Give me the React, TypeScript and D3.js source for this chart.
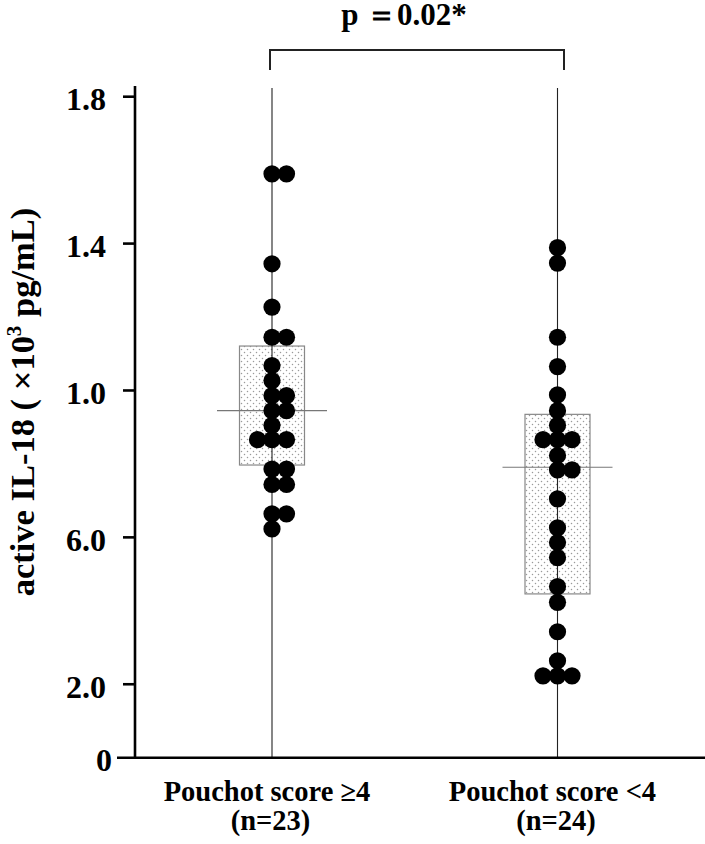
import React, { useEffect, useRef } from 'react';
import * as d3 from 'd3';

// categories and labels
const groups = ['Pouchot score ≥4', 'Pouchot score <4'];
const groupCounts = ['(n=23)', '(n=24)'];

// individual values (axis units)
const scoreHighValues = [
  1.59, 1.59, 1.345, 1.227, 1.145, 1.145, 1.068, 1.027, 0.986, 0.986, 0.945, 0.945,
  0.905, 0.866, 0.866, 0.866, 0.786, 0.786, 0.744, 0.744, 0.664, 0.664, 0.623,
];
const scoreLowValues = [
  1.389, 1.347, 1.145, 1.065, 0.988, 0.945, 0.905, 0.866, 0.866, 0.866, 0.823, 0.784,
  0.784, 0.705, 0.626, 0.586, 0.545, 0.466, 0.423, 0.343, 0.264, 0.223, 0.223, 0.223,
];

// box summaries per group
const boxQ1 = [0.797, 0.446];
const boxMedian = [0.945, 0.791];
const boxQ3 = [1.121, 0.935];

// y axis ticks (labels as printed)
const tickValues = [0, 0.2, 0.6, 1.0, 1.4, 1.8];
const tickLabels = ['0', '2.0', '6.0', '1.0', '1.4', '1.8'];

const pValueLabel = 'p ＝0.02*';

const FONT = "'Times New Roman', 'Liberation Serif', serif";

export default function App() {
  const svgRef = useRef<SVGSVGElement>(null);

  useEffect(() => {
    if (!svgRef.current) return;
    const svg = d3.select(svgRef.current);
    svg.selectAll('*').remove();

    const width = 705;
    const axisX = 135;

    const y = d3.scaleLinear().domain([0, 1.8]).range([757.7, 96.7]);
    const x = d3.scalePoint<string>().domain(groups).range([272, 557.5]);

    // dotted fill pattern for boxes
    const defs = svg.append('defs');
    const pat = defs.append('pattern')
      .attr('id', 'dots')
      .attr('width', 6)
      .attr('height', 6)
      .attr('patternUnits', 'userSpaceOnUse');
    pat.append('rect').attr('width', 6).attr('height', 6).attr('fill', '#fff');
    pat.append('circle').attr('cx', 1.5).attr('cy', 1.5).attr('r', 0.75).attr('fill', '#9a9a9a');
    pat.append('circle').attr('cx', 4.5).attr('cy', 4.5).attr('r', 0.75).attr('fill', '#9a9a9a');

    const g = svg.append('g');

    // boxes
    groups.forEach((name, i) => {
      const cx = x(name)!;
      g.append('rect')
        .attr('x', cx - 32.5)
        .attr('y', y(boxQ3[i]))
        .attr('width', 65)
        .attr('height', y(boxQ1[i]) - y(boxQ3[i]))
        .attr('fill', 'url(#dots)')
        .attr('stroke', '#888')
        .attr('stroke-width', 1.2);
    });

    // group vertical lines
    groups.forEach((name) => {
      g.append('line')
        .attr('x1', x(name)!).attr('x2', x(name)!)
        .attr('y1', 88).attr('y2', y(0))
        .attr('stroke', '#222')
        .attr('stroke-width', 1.1);
    });

    // medians
    groups.forEach((name, i) => {
      const cx = x(name)!;
      g.append('line')
        .attr('x1', cx - 55).attr('x2', cx + 55)
        .attr('y1', y(boxMedian[i])).attr('y2', y(boxMedian[i]))
        .attr('stroke', '#777')
        .attr('stroke-width', 1.2);
    });

    // dots, tied values spread sideways
    const spread = 14.5;
    [scoreHighValues, scoreLowValues].forEach((vals, i) => {
      const cx = x(groups[i])!;
      const byValue = d3.group(vals, (v) => v);
      byValue.forEach((list, v) => {
        const n = list.length;
        const offsets = n === 1 ? [0] : n === 2 ? [0, 1] : d3.range(n).map((k) => k - (n - 1) / 2);
        offsets.forEach((o) => {
          g.append('circle')
            .attr('cx', cx + o * spread)
            .attr('cy', y(v))
            .attr('r', 8.6)
            .attr('fill', '#000');
        });
      });
    });

    // y axis
    g.append('line')
      .attr('x1', axisX).attr('x2', axisX)
      .attr('y1', 86).attr('y2', y(0) + 1.2)
      .attr('stroke', '#000').attr('stroke-width', 2.6);
    // x axis line (also the 0 tick)
    g.append('line')
      .attr('x1', 117).attr('x2', width)
      .attr('y1', y(0)).attr('y2', y(0))
      .attr('stroke', '#000').attr('stroke-width', 2.6);

    tickValues.forEach((v, i) => {
      if (v !== 0) {
        g.append('line')
          .attr('x1', 123).attr('x2', axisX)
          .attr('y1', y(v)).attr('y2', y(v))
          .attr('stroke', '#000').attr('stroke-width', 2.6);
      }
      g.append('text')
        .attr('x', v === 0 ? 112 : 106)
        .attr('y', y(v) + 13.5)
        .attr('text-anchor', 'end')
        .attr('font-family', FONT)
        .attr('font-weight', 'bold')
        .attr('font-size', 32)
        .text(tickLabels[i]);
    });

    // y title
    const title = g.append('text')
      .attr('transform', 'translate(33.5,402) rotate(-90)')
      .attr('text-anchor', 'middle')
      .attr('font-family', FONT)
      .attr('font-weight', 'bold')
      .attr('font-size', 34.5);
    title.append('tspan').text('active IL-18 ( ×10');
    title.append('tspan').attr('font-size', 21).attr('dy', -13).text('3');
    title.append('tspan').attr('dy', 13).text(' pg/mL)');

    // category labels
    groups.forEach((name, i) => {
      const cx = x(name)!;
      g.append('text')
        .attr('x', cx - 5).attr('y', 800.7)
        .attr('text-anchor', 'middle')
        .attr('font-family', FONT).attr('font-weight', 'bold').attr('font-size', 28.5)
        .text(name);
      g.append('text')
        .attr('x', cx - 1.5).attr('y', 830)
        .attr('text-anchor', 'middle')
        .attr('font-family', FONT).attr('font-weight', 'bold').attr('font-size', 28.5)
        .text(groupCounts[i]);
    });

    // significance bracket
    const x0 = x(groups[0])! - 2;
    const x1 = x(groups[1])! + 6.5;
    g.append('path')
      .attr('d', `M${x0},70 V50 H${x1} V70`)
      .attr('fill', 'none')
      .attr('stroke', '#222')
      .attr('stroke-width', 2);
    g.append('text')
      .attr('x', 404).attr('y', 25)
      .attr('text-anchor', 'middle')
      .attr('font-family', FONT).attr('font-weight', 'bold').attr('font-size', 31)
      .text(pValueLabel);
  }, []);

  return (
    <svg
      ref={svgRef}
      width={705}
      height={844}
      style={{ position: 'absolute', left: 0, top: 0, background: '#fff', display: 'block' }}
    />
  );
}
